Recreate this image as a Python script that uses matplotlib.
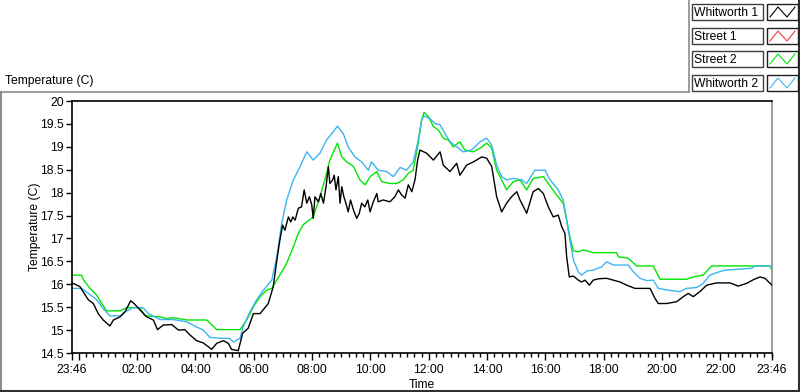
import matplotlib
matplotlib.use('Agg')
import matplotlib.pyplot as plt
import numpy as np
from matplotlib.patches import Rectangle
from matplotlib.lines import Line2D

plt.rcParams['font.family'] = ['Liberation Sans', 'DejaVu Sans']
FS = 8.7

# hours since 23:46 (start of the record)
w1_t = [0, 0.27, 0.56, 0.73, 0.9, 1.07, 1.3, 1.42, 1.65, 1.82, 2.01, 2.13, 2.33, 2.56, 2.79,
        2.93, 3.13, 3.42, 3.65, 3.87, 4.05, 4.27, 4.5, 4.79, 4.96, 5.19, 5.36, 5.47, 5.7,
        5.85, 6.04, 6.22, 6.45, 6.73, 6.9,
        7.04, 7.13, 7.22, 7.3, 7.42, 7.5, 7.57, 7.65, 7.76, 7.87, 7.96, 8.05, 8.14, 8.22,
        8.27, 8.33, 8.45, 8.53, 8.62, 8.71, 8.79, 8.84, 8.94, 8.99, 9.05, 9.13, 9.19, 9.25,
        9.32, 9.39, 9.47, 9.55, 9.65, 9.76, 9.85, 9.93, 10.04, 10.14, 10.22, 10.33, 10.45,
        10.5, 10.67, 10.9, 11.07, 11.19, 11.3, 11.42, 11.53, 11.65, 11.76, 11.85, 11.93,
        12.16, 12.39, 12.62,
        12.73, 12.96, 13.19, 13.3, 13.53, 13.76, 14.05, 14.22, 14.39, 14.56, 14.73, 14.9,
        15.07, 15.25, 15.36, 15.59, 15.81, 15.99, 16.16, 16.33, 16.5, 16.67, 16.79, 16.9,
        16.96, 17.05, 17.19, 17.36, 17.47, 17.59, 17.74, 17.87, 18.05, 18.33, 18.56, 18.79,
        19.02, 19.3, 19.59, 19.82, 19.99, 20.1, 20.39, 20.73, 20.96, 21.13, 21.3, 21.53,
        21.76, 22.1, 22.56, 22.84, 23.13, 23.36, 23.59, 23.76, 24.0]
w1_v = [16.03, 15.95, 15.66, 15.58, 15.36, 15.22, 15.09, 15.22, 15.29, 15.4, 15.64, 15.58,
        15.44, 15.29, 15.22, 15.01, 15.11, 15.12, 15.0, 15.01, 14.89, 14.77, 14.72, 14.58,
        14.71, 14.77, 14.71, 14.58, 14.55, 14.93, 15.04, 15.36, 15.36, 15.58, 15.95,
        16.6, 16.97, 17.29, 17.18, 17.47, 17.36, 17.47, 17.4, 17.66, 17.69, 18.06, 17.77,
        17.91, 17.73, 17.44, 17.91, 17.8, 17.98, 17.77, 18.13, 18.57, 18.2, 18.28, 18.38,
        18.06, 18.35, 17.77, 18.13, 17.91, 17.77, 17.58, 17.84, 17.62, 17.44, 17.55, 17.77,
        17.69, 17.84, 17.58, 17.8, 17.98, 17.8, 17.84, 17.8, 17.91, 18.06, 17.95, 17.88,
        18.17, 18.02, 18.28, 18.71, 18.93,
        18.86, 18.71, 18.89,
        18.6, 18.46, 18.64,
        18.38, 18.6, 18.67, 18.78, 18.75, 18.57, 17.91, 17.58, 17.77, 17.91, 18.02, 17.84,
        17.55, 18.02, 18.09, 17.98, 17.69, 17.47, 17.51, 17.26, 17.11, 16.6, 16.16, 16.18,
        16.09, 16.05, 16.09, 15.98, 16.09, 16.12, 16.13, 16.09, 16.05, 15.98, 15.91, 15.91,
        15.91, 15.69, 15.58, 15.58, 15.62, 15.73, 15.8, 15.73, 15.84, 15.98, 16.03, 16.03,
        15.96, 16.02, 16.1, 16.16, 16.13, 15.98]

s1_t = []
s1_v = []

s2_t = [0, 0.33, 0.4, 0.62, 0.85, 1.02, 1.19, 1.65, 1.87, 2.33, 2.5, 3.02, 3.25, 3.47, 3.93,
        4.62, 4.96, 5.76, 5.99, 6.22, 6.45, 6.67, 6.85, 7.02, 7.19, 7.36, 7.59, 7.76, 7.93,
        8.27, 8.5, 8.73, 8.84, 9.1, 9.25, 9.42, 9.65, 9.87, 10.05, 10.22, 10.45, 10.62,
        10.9, 11.13, 11.36, 11.53, 11.7, 11.87, 11.99, 12.07, 12.22, 12.39, 12.56, 12.73,
        12.9, 13.07, 13.3, 13.47, 13.76, 13.99, 14.22, 14.39, 14.56, 14.73, 14.9, 15.13,
        15.36, 15.59, 15.81, 16.16, 16.33, 16.61, 16.84, 16.96, 17.07, 17.19, 17.36, 17.53,
        17.87, 18.67, 18.73, 19.07, 19.36, 19.93, 20.16, 21.07, 21.3, 21.64, 21.93, 23.93, 24.0]
s2_v = [16.2, 16.2, 16.09, 15.91, 15.76, 15.58, 15.42, 15.42, 15.49, 15.49, 15.31, 15.29,
        15.25, 15.27, 15.22, 15.22, 15.01, 15.01, 15.22, 15.51, 15.73, 15.87, 15.91, 16.09,
        16.27, 16.46, 16.82, 17.11, 17.3, 17.47, 17.91, 18.42, 18.71, 19.08, 18.78, 18.67,
        18.57, 18.28, 18.17, 18.35, 18.46, 18.24, 18.2, 18.2, 18.28, 18.42, 18.49, 19.08,
        19.59, 19.75, 19.66, 19.44, 19.37, 19.19, 19.15, 19.0, 19.11, 18.93, 18.89, 18.97,
        19.08, 18.97, 18.49, 18.28, 18.06, 18.24, 18.28, 18.06, 18.31, 18.35, 18.2, 17.95,
        17.77, 17.4, 17.04, 16.73, 16.71, 16.75, 16.69, 16.69, 16.6, 16.57, 16.4, 16.4,
        16.11, 16.11, 16.16, 16.2, 16.4, 16.4, 16.31]

w2_t = [0, 0.33, 0.56, 0.85, 1.07, 1.3, 1.65, 1.82, 2.1, 2.44, 2.62, 3.02, 3.47, 3.93, 4.27,
        4.5, 4.73, 5.19, 5.4, 5.53, 5.76, 5.87, 6.1, 6.33, 6.56, 6.85, 7.02, 7.19, 7.36,
        7.59, 7.82, 8.05, 8.27, 8.5, 8.73, 8.96, 9.1, 9.3, 9.47, 9.7, 9.93, 10.16, 10.27,
        10.5, 10.79, 11.02, 11.25, 11.47, 11.7, 11.87, 11.99, 12.07, 12.27, 12.44, 12.62,
        12.79, 12.96, 13.19, 13.42, 13.7, 13.99, 14.22, 14.39, 14.56, 14.73, 14.9, 15.13,
        15.42, 15.59, 15.87, 16.22, 16.39, 16.67, 16.84, 16.96, 17.07, 17.19, 17.36, 17.47,
        17.65, 17.87, 18.16, 18.33, 18.56, 19.07, 19.25, 19.47, 19.7, 19.93, 20.1, 20.44,
        20.84, 21.07, 21.42, 21.64, 21.87, 22.27, 22.44, 23.3, 23.42, 23.93, 24.0]
w2_v = [15.91, 15.91, 15.8, 15.66, 15.47, 15.31, 15.31, 15.4, 15.49, 15.49, 15.36, 15.23,
        15.23, 15.18, 15.07, 15.0, 14.84, 14.82, 14.82, 14.74, 14.82, 15.07, 15.4, 15.66,
        15.87, 16.09, 16.6, 17.33, 17.84, 18.28, 18.57, 18.89, 18.71, 18.86, 19.15, 19.33,
        19.45, 19.29, 19.0, 18.78, 18.67, 18.49, 18.67, 18.49, 18.46, 18.35, 18.55, 18.49,
        18.67, 19.15, 19.59, 19.67, 19.62, 19.51, 19.48, 19.29, 19.11, 19.0, 18.89, 18.93,
        19.11, 19.19, 19.04, 18.6, 18.35, 18.28, 18.31, 18.28, 18.2, 18.49, 18.49, 18.28,
        18.06, 17.84, 17.4, 16.97, 16.53, 16.27, 16.2, 16.29, 16.31, 16.38, 16.49, 16.42,
        16.42, 16.27, 16.13, 16.08, 16.09, 15.91, 15.87, 15.84, 15.91, 15.93, 16.02, 16.2,
        16.29, 16.31, 16.35, 16.4, 16.4, 16.35]

series_names = ['Whitworth 1', 'Street 1', 'Street 2', 'Whitworth 2']
series_colors = ['#000000', '#f03c3c', '#00e600', '#3cb4f0']

y_ticks = [14.5, 15, 15.5, 16, 16.5, 17, 17.5, 18, 18.5, 19, 19.5, 20]
y_labels = ['14.5', '15', '15.5', '16', '16.5', '17', '17.5', '18', '18.5', '19', '19.5', '20']
x_labels = ['23:46', '', '02:00', '04:00', '06:00', '08:00', '10:00', '12:00', '14:00',
            '16:00', '18:00', '20:00', '22:00', '23:46']

start_min = 23 * 60 + 46
x_ticks = [0.0] + [((24 * 60 - start_min) + 120 * k) / 60 for k in range(12)] + [24.0]
x_minor = np.arange((24 * 60 - start_min) / 60, 24, 0.25)

fig = plt.figure(figsize=(8, 3.92), dpi=100)
W, H = 800, 392
ax = fig.add_axes([72 / W, 1 - 353 / H, 700 / W, 252 / H])

for t, v, c, z in [(s1_t, s1_v, series_colors[1], 2), (s2_t, s2_v, series_colors[2], 2),
                   (w2_t, w2_v, series_colors[3], 2), (w1_t, w1_v, series_colors[0], 3)]:
    if len(t):
        ax.plot(t, v, color=c, lw=1.0, zorder=z)

ax.set_xlim(0, 24)
ax.set_ylim(14.5, 20)
ax.set_yticks(y_ticks)
ax.set_yticklabels(y_labels, fontsize=FS)
ax.set_xticks(x_ticks)
ax.set_xticklabels(x_labels, fontsize=FS)
ax.set_xticks(x_minor, minor=True)
ax.tick_params(axis='x', which='major', length=5, width=1, pad=3)
ax.tick_params(axis='x', which='minor', length=3, width=1)
ax.tick_params(axis='y', which='major', length=4, width=1, pad=2)
ax.set_xlabel('Time', fontsize=FS, labelpad=2)
ax.set_ylabel('Temperature (C)', fontsize=FS)
ax.yaxis.set_label_coords((41 - 72) / 700, 0.5)
for s in ['left', 'top', 'bottom']:
    ax.spines[s].set_color('black')
    ax.spines[s].set_linewidth(1.2)
ax.spines['right'].set_color('#8c8c8c')
ax.spines['right'].set_linewidth(1.2)

# overlay for panel frame and legend (pixel coordinates)
ov = fig.add_axes([0, 0, 1, 1], zorder=-1)
ov.set_xlim(0, W)
ov.set_ylim(H, 0)
ov.axis('off')
frame = '#8c8c8c'
ov.add_line(Line2D([1, 1], [92, 391], color=frame, lw=1.5))
ov.add_line(Line2D([1, 689], [92, 92], color=frame, lw=1.2))
ov.add_line(Line2D([689, 689], [0, 92], color=frame, lw=1.2))
ov.add_line(Line2D([1, 799], [391, 391], color='#303030', lw=1.5))
ov.add_line(Line2D([799, 799], [0, 391], color='#303030', lw=1.5))
ov.text(5, 81, 'Temperature (C)', fontsize=FS, ha='left', va='center')

# legend
ov2 = fig.add_axes([0, 0, 1, 1], zorder=5)
ov2.set_xlim(0, W)
ov2.set_ylim(H, 0)
ov2.axis('off')
row_tops = [4, 28, 51, 75]
for name, col, y0 in zip(series_names, series_colors, row_tops):
    ov2.add_patch(Rectangle((692, y0), 71, 16, facecolor='white', edgecolor='#404040', lw=1))
    ov2.text(694, y0 + 8.5, name, fontsize=FS, ha='left', va='center')
    ov2.add_patch(Rectangle((767, y0), 31, 16, facecolor='white', edgecolor='#202020', lw=1))
    ov2.plot([770, 778, 787, 795], [y0 + 13, y0 + 3, y0 + 13, y0 + 3], color=col, lw=0.8)

fig.savefig('out.png', dpi=100, facecolor='white')
